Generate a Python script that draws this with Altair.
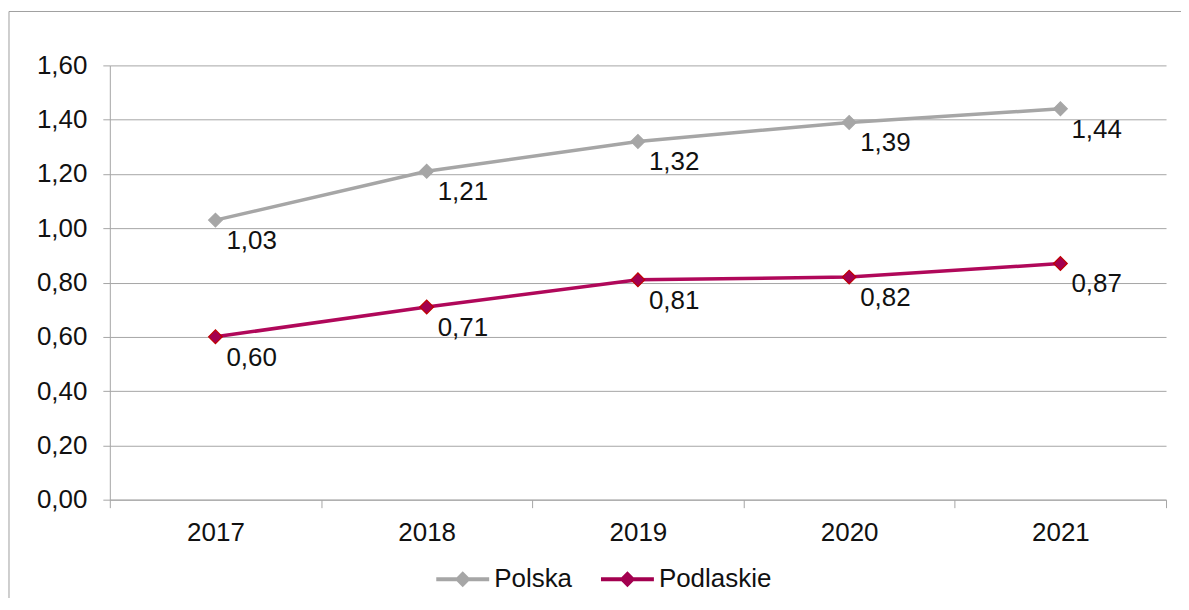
import altair as alt
import pandas as pd

years = ["2017", "2018", "2019", "2020", "2021"]
polska = [1.03, 1.21, 1.32, 1.39, 1.44]
podlaskie = [0.60, 0.71, 0.81, 0.82, 0.87]
series_names = ["Polska", "Podlaskie"]
y_ticks = [0.0, 0.2, 0.4, 0.6, 0.8, 1.0, 1.2, 1.4, 1.6]

rows = []
for name, vals in zip(series_names, [polska, podlaskie]):
    for yr, v in zip(years, vals):
        rows.append({"year": yr, "value": v, "series": name})
df = pd.DataFrame(rows)

FONT = "Liberation Sans"
GRID = "#A6A6A6"
GRAY = "#A6A6A6"
MAG = "#B0085A"
MAG_FILL = "#A3004F"
RED = "#C00000"

W, H = 1058, 435

base = alt.Chart(df)

x_enc = alt.X(
    "year:N",
    sort=years,
    scale=alt.Scale(paddingInner=0, paddingOuter=0),
    axis=alt.Axis(
        title=None, labelAngle=0, labelFontSize=26, labelFont=FONT,
        labelColor="#111111", labelPadding=12, tickSize=8, tickColor=GRID,
        domainColor=GRID, tickBand="extent", grid=False,
    ),
)
y_enc = alt.Y(
    "value:Q",
    scale=alt.Scale(domain=[0, 1.6], nice=False),
    axis=alt.Axis(
        title=None, values=y_ticks, labelFontSize=26, labelFont=FONT,
        labelColor="#111111", labelPadding=16, tickSize=7, tickColor=GRID,
        domainColor=GRID, gridColor=GRID, grid=True,
        labelExpr="replace(format(datum.value, '.2f'), '.', ',')",
    ),
)

frame = alt.Chart(alt.Data(values=[{"a": 1}])).mark_rect(
    fillOpacity=0, stroke="#A0A0A0", strokeWidth=1
).encode(
    x=alt.value(-101), x2=alt.value(1100), y=alt.value(-54), y2=alt.value(700)
)

lines = base.mark_line(strokeWidth=3.5).encode(
    x=x_enc, y=y_enc,
    stroke=alt.Stroke("series:N", scale=alt.Scale(domain=series_names, range=[GRAY, MAG]), legend=None),
)

legend_path = "M-1,-0.075H1V0.075H-1Z M0,-0.3L0.3,0L0,0.3L-0.3,0Z"

points = base.mark_point(shape="diamond", filled=True, size=190, strokeWidth=1.2, opacity=1).encode(
    x=x_enc, y=y_enc,
    fill=alt.Fill(
        "series:N",
        scale=alt.Scale(domain=series_names, range=[GRAY, MAG_FILL]),
        legend=alt.Legend(
            title=None, orient="none", direction="horizontal",
            legendX=327, legendY=488,
            symbolType=legend_path, symbolSize=2809, symbolStrokeWidth=0,
            labelFontSize=26, labelFont=FONT, labelColor="#111111",
            labelOffset=5, columnPadding=28,
        ),
    ),
    stroke=alt.Stroke("series:N", scale=alt.Scale(domain=series_names, range=[GRAY, RED]), legend=None),
)

labels = base.mark_text(
    align="left", baseline="middle", dx=11, dy=21, fontSize=26, font=FONT, color="#111111"
).transform_calculate(
    label="replace(format(datum.value, '.2f'), '.', ',')"
).encode(x=x_enc, y=y_enc, text="label:N")

chart = alt.layer(frame, lines, points, labels).resolve_scale(
    stroke="independent"
).properties(
    width=W, height=H,
    padding={"left": 102, "top": 57, "right": 15, "bottom": 98},
    autosize="none",
).configure_view(stroke=None)

chart.save("out.html", embed_options={"renderer": "svg", "actions": False})
